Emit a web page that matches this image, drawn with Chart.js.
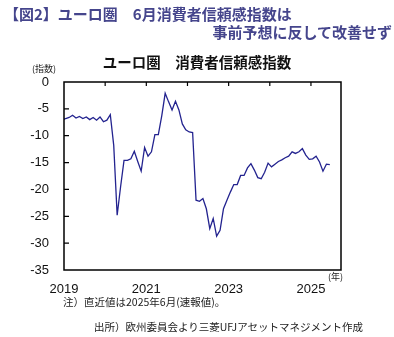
<!DOCTYPE html>
<html>
<head>
<meta charset="utf-8">
<script src="https://cdn.jsdelivr.net/npm/chart.js@4/dist/chart.umd.min.js"></script>
<style>
  body { margin: 0; background: #fff; }
  #wrap { position: relative; width: 394px; height: 337px; overflow: hidden; font-family: "Noto Sans CJK JP", sans-serif; }
  #myChart { position: absolute; left: 0; top: 0; }
  .txt { position: absolute; white-space: nowrap; line-height: 1; }
  .head { font-size: 15px; font-weight: bold; color: #45458c; }
  .note { font-size: 10.5px; color: #222; }
</style>
</head>
<body>
<div id="wrap">
  <canvas id="myChart" width="394" height="337"></canvas>
  <div class="txt head" style="left:4px; top:6px;">【図2】ユーロ圏　6月消費者信頼感指数は</div>
  <div class="txt head" style="right:2px; top:24px;">事前予想に反して改善せず</div>
  <div class="txt" style="left:0; width:394px; text-align:center; top:55px; font-size:14.5px; font-weight:bold; color:#111;">ユーロ圏　消費者信頼感指数</div>
  <div class="txt" style="left:32px; top:64px; font-size:9px; color:#222;">(指数)</div>
  <div class="txt" style="left:328px; top:272px; font-size:9px; color:#222;">(年)</div>
  <div class="txt note" style="left:63px; top:297px;">注）直近値は2025年6月(速報値)。</div>
  <div class="txt note" style="left:94px; top:322px;">出所）欧州委員会より三菱UFJアセットマネジメント作成</div>
</div>
<script>
// monthly data, Dec 2018 - Jun 2025
let months = [
  "2018-12",
  "2019-01", "2019-02", "2019-03", "2019-04", "2019-05", "2019-06", "2019-07", "2019-08", "2019-09", "2019-10", "2019-11", "2019-12",
  "2020-01", "2020-02", "2020-03", "2020-04", "2020-05", "2020-06", "2020-07", "2020-08", "2020-09", "2020-10", "2020-11", "2020-12",
  "2021-01", "2021-02", "2021-03", "2021-04", "2021-05", "2021-06", "2021-07", "2021-08", "2021-09", "2021-10", "2021-11", "2021-12",
  "2022-01", "2022-02", "2022-03", "2022-04", "2022-05", "2022-06", "2022-07", "2022-08", "2022-09", "2022-10", "2022-11", "2022-12",
  "2023-01", "2023-02", "2023-03", "2023-04", "2023-05", "2023-06", "2023-07", "2023-08", "2023-09", "2023-10", "2023-11", "2023-12",
  "2024-01", "2024-02", "2024-03", "2024-04", "2024-05", "2024-06", "2024-07", "2024-08", "2024-09", "2024-10", "2024-11", "2024-12",
  "2025-01", "2025-02", "2025-03", "2025-04", "2025-05", "2025-06"
];

let confidence = [
  -7.1,
  -6.8, -6.6, -6.2, -6.7, -6.4, -6.8, -6.5, -7.0, -6.6, -7.1, -6.5, -7.4,
  -7.1, -6.1, -11.8, -24.8, -19.5, -14.6, -14.6, -14.3, -12.9, -14.8, -16.6, -12.2,
  -13.8, -13.0, -9.8, -9.8, -6.3, -2.1, -3.7, -5.2, -3.6, -5.2, -7.8, -8.9,
  -9.3, -9.4, -22.0, -22.2, -21.7, -23.6, -27.3, -25.4, -28.7, -27.6, -23.6, -22.0,
  -20.5, -19.1, -19.1, -17.4, -17.4, -16.0, -15.2, -16.4, -17.8, -18.0, -16.8, -15.1,
  -15.8, -15.3, -14.8, -14.5, -14.1, -13.8, -13.0, -13.3, -13.0, -12.4, -13.6, -14.4,
  -14.3, -13.8, -14.9, -16.6, -15.3, -15.4
];

let yearTicks = [2019, 2020, 2021, 2022, 2023, 2024, 2025];
let yearLabels = [2019, 2021, 2023, 2025];

// month string -> position in years (mid-month)
function monthPos(s) {
  let parts = s.split("-");
  return parseInt(parts[0]) + (parseInt(parts[1]) - 0.5) / 12;
}

let points = months.map((m, i) => ({ x: monthPos(m), y: confidence[i] }));

// box round the plot with inward ticks
const framePlugin = {
  id: "frame",
  afterDraw(chart) {
    let ctx = chart.ctx;
    let a = chart.chartArea;
    let xs = chart.scales.x;
    let ys = chart.scales.y;
    ctx.save();
    ctx.strokeStyle = "#000";
    ctx.lineWidth = 1.5;
    ctx.strokeRect(a.left, a.top, a.right - a.left, a.bottom - a.top);
    ctx.lineWidth = 1.2;
    ctx.beginPath();
    yearTicks.forEach(y => {
      let px = xs.getPixelForValue(y);
      if (px > a.left + 1 && px < a.right - 1) {
        ctx.moveTo(px, a.top);
        ctx.lineTo(px, a.top + 4);
      }
    });
    for (let v = -30; v <= -5; v += 5) {
      let py = ys.getPixelForValue(v);
      ctx.moveTo(a.left, py);
      ctx.lineTo(a.left + 5, py);
    }
    ctx.stroke();
    ctx.restore();
  }
};

let ctx = document.getElementById("myChart").getContext("2d");

let myChart = new Chart(ctx, {
  type: "line",
  data: {
    datasets: [{
      label: "消費者信頼感指数",
      data: points,
      borderColor: "#23238f",
      borderWidth: 1.3,
      pointRadius: 0,
      tension: 0,
      fill: false,
      clip: 0
    }]
  },
  options: {
    responsive: false,
    animation: false,
    layout: { padding: { top: 82, right: 53, left: 0, bottom: 0 } },
    plugins: {
      legend: { display: false },
      tooltip: { enabled: false }
    },
    scales: {
      x: {
        type: "linear",
        min: 2019,
        max: 2025.73,
        afterFit(scale) { scale.height = 67; },
        afterBuildTicks(scale) {
          scale.ticks = yearTicks.map(v => ({ value: v }));
        },
        grid: { display: false, drawTicks: false },
        border: { display: false },
        ticks: {
          padding: 12,
          color: "#111",
          font: { family: "'Liberation Sans', Arial, sans-serif", size: 13 },
          maxRotation: 0,
          autoSkip: false,
          callback: v => yearLabels.includes(v) ? String(v) : ""
        }
      },
      y: {
        min: -35,
        max: 0,
        afterFit(scale) { scale.width = 64; },
        grid: { display: false, drawTicks: false },
        border: { display: false },
        ticks: {
          stepSize: 5,
          padding: 15,
          color: "#111",
          font: { family: "'Liberation Sans', Arial, sans-serif", size: 13 }
        }
      }
    }
  },
  plugins: [framePlugin]
});
</script>
</body>
</html>
